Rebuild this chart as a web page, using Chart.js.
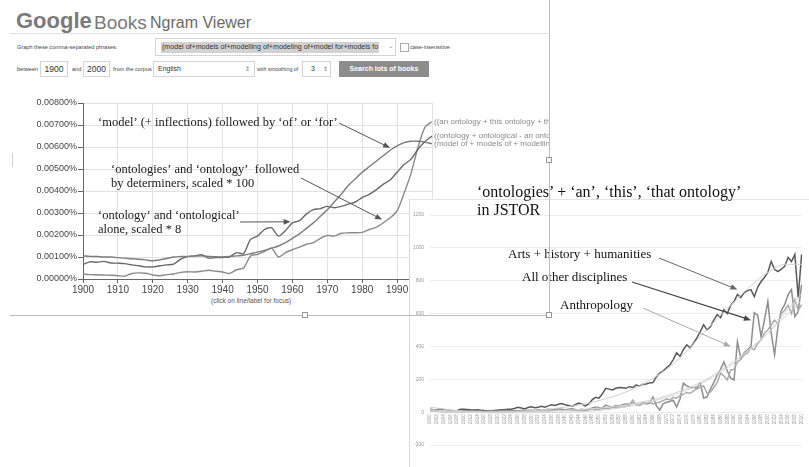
<!DOCTYPE html>
<html>
<head>
<meta charset="utf-8">
<script src="https://cdn.jsdelivr.net/npm/chart.js@4.4.1/dist/chart.umd.min.js"></script>
<style>
  body { margin:0; width:809px; height:467px; background:#fff; position:relative; overflow:hidden;
         font-family:"Liberation Sans", Arial, sans-serif; color:#444; }
  .abs { position:absolute; white-space:nowrap; }
  .small { font-size:5.6px; color:#444; line-height:1; }
  .box { position:absolute; border:1px solid #d4d4d4; background:#fff; box-sizing:border-box; font-size:8px; color:#333; }
  .hline { position:absolute; height:1px; background:#bdbdbd; }
  .vline { position:absolute; width:1px; background:#bdbdbd; }
  .handle { position:absolute; width:6px; height:6px; border:1px solid #999; background:#fff; box-sizing:border-box; }
</style>
</head>
<body>

<!-- ngram viewer header -->
<div class="abs" style="left:16px;top:10px;font-size:22px;line-height:1;font-weight:bold;color:#7a7a7a;">Google</div>
<div class="abs" style="left:94px;top:13px;font-size:19px;line-height:1;color:#7a7a7a;">Books</div>
<div class="abs" style="left:150px;top:15px;font-size:16px;line-height:1;color:#6a6a6a;">Ngram Viewer</div>
<div class="hline" style="left:10px;top:33px;width:540px;background:#e0e0e0;"></div>

<div class="abs small" style="left:17px;top:45px;">Graph these comma-separated phrases:</div>
<div class="box" style="left:155px;top:38px;width:241px;height:18px;">
  <span class="abs" style="left:5px;top:3px;background:#d2d2d2;padding:1px 1px;line-height:9px;font-size:7.1px;">(model of+models of+modelling of+modeling of+model for+models fo</span>
  <span class="abs" style="left:232px;top:3px;color:#999;font-size:7px;">&#8964;</span>
</div>
<div class="abs" style="left:400px;top:43px;width:7px;height:7px;border:1px solid #aaa;"></div>
<div class="abs small" style="left:410px;top:45px;">case-insensitive</div>

<div class="abs small" style="left:17px;top:67px;">between</div>
<div class="box" style="left:40px;top:61px;width:28px;height:16px;text-align:center;line-height:14px;font-size:8.5px;">1900</div>
<div class="abs small" style="left:72px;top:67px;">and</div>
<div class="box" style="left:83px;top:61px;width:27px;height:16px;text-align:center;line-height:14px;font-size:8.5px;">2000</div>
<div class="abs small" style="left:113px;top:67px;">from the corpus</div>
<div class="box" style="left:153px;top:61px;width:102px;height:16px;line-height:14px;font-size:7px;">
  <span class="abs" style="left:4px;">English</span>
  <span class="abs" style="left:91px;font-family:'DejaVu Sans';font-size:6px;color:#777;">&#8661;</span>
</div>
<div class="abs small" style="left:257px;top:67px;font-size:5.3px;">with smoothing of</div>
<div class="box" style="left:302px;top:61px;width:29px;height:16px;line-height:14px;font-size:7px;">
  <span class="abs" style="left:8px;">3</span>
  <span class="abs" style="left:20px;font-family:'DejaVu Sans';font-size:6px;color:#777;">&#8661;</span>
</div>
<div class="abs small" style="left:334px;top:67px;">.</div>
<div class="abs" style="left:339px;top:61px;width:90px;height:16px;background:#8c8c8c;color:#fff;font-size:7px;font-weight:bold;text-align:center;line-height:16px;">Search lots of books</div>

<!-- ngram chart -->
<div class="abs" style="left:0;top:95px;width:550px;height:205px;z-index:1;">
  <canvas id="ngram" width="550" height="205"></canvas>
</div>
<div class="abs" style="left:211px;top:297px;font-size:6.5px;color:#555;">(click on line/label for focus)</div>

<!-- JSTOR chart -->
<div class="abs" style="left:409px;top:199px;width:400px;height:268px;border-left:1px solid #d8d8d8;border-top:1px solid #e4e4e4;background:#fff;z-index:2;">
  <canvas id="jstor" width="399" height="267"></canvas>
</div>
<div class="abs" style="left:477px;top:183px;font-family:'Liberation Serif';font-size:16px;line-height:18px;color:#111;z-index:3;">&#8216;ontologies&#8217; + &#8216;an&#8217;, &#8216;this&#8217;, &#8216;that ontology&#8217;<br>in JSTOR</div>

<!-- image frame with handles -->
<div class="vline" style="left:549px;top:0;height:315px;z-index:4;"></div>
<div class="hline" style="left:10px;top:315px;width:540px;z-index:4;"></div>
<div class="vline" style="left:12px;top:153px;height:14px;background:#d0d0d0;z-index:4;"></div>
<div class="handle" style="left:546px;top:157px;z-index:5;"></div>
<div class="handle" style="left:302px;top:312px;z-index:5;"></div>
<div class="handle" style="left:546px;top:312px;z-index:5;"></div>

<script>
// ---------- Ngram data (percent of all n-grams) ----------
const ngramYears = [1900,1902,1904,1906,1908,1910,1912,1914,1916,1918,
  1920,1922,1924,1926,1928,1930,1932,1934,1936,1938,
  1940,1942,1944,1946,1948,1950,1952,1954,1956,1958,
  1960,1962,1964,1966,1968,1970,1972,1974,1976,1978,
  1980,1982,1984,1986,1988,1990,1992,1994,1996,1998,2000];

const modelOf = [0.00105,0.00103,0.00102,0.00100,0.00100,0.00097,0.00095,0.00092,0.00090,0.00087,
  0.00083,0.00087,0.00093,0.00100,0.00102,0.00103,0.00104,0.00105,0.00103,0.00101,
  0.00100,0.00102,0.00105,0.00108,0.00115,0.00122,0.00130,0.00140,0.00150,0.00165,
  0.00185,0.00205,0.00230,0.00255,0.00285,0.00315,0.00350,0.00385,0.00425,0.00455,
  0.00485,0.00510,0.00535,0.00560,0.00585,0.00605,0.00620,0.00626,0.00626,0.00622,0.00615];

const ontologyAlone = [0.00066,0.00078,0.00076,0.00080,0.00073,0.00072,0.00070,0.00064,0.00060,0.00055,
  0.00055,0.00060,0.00064,0.00068,0.00090,0.00102,0.00105,0.00110,0.00095,0.00097,
  0.00098,0.00100,0.00120,0.00115,0.00180,0.00195,0.00225,0.00233,0.00195,0.00220,
  0.00255,0.00265,0.00295,0.00315,0.00320,0.00330,0.00324,0.00330,0.00340,0.00350,
  0.00370,0.00385,0.00405,0.00430,0.00450,0.00485,0.00520,0.00545,0.00590,0.00625,0.00650];

const ontologyDeterminers = [0.00022,0.00020,0.00019,0.00018,0.00017,0.00015,0.00013,0.00025,0.00028,0.00026,
  0.00018,0.00015,0.00020,0.00023,0.00030,0.00033,0.00032,0.00035,0.00040,0.00035,
  0.00032,0.00025,0.00042,0.00050,0.00105,0.00112,0.00125,0.00140,0.00100,0.00120,
  0.00133,0.00145,0.00158,0.00165,0.00185,0.00198,0.00195,0.00208,0.00210,0.00210,
  0.00212,0.00225,0.00235,0.00255,0.00278,0.00310,0.00390,0.00480,0.00600,0.00690,0.00715];

const ngramLabels = [
  '(model of + models of + modelling of + modeling of + model for + models for)',
  '((ontology + ontological - an ontology - this ontology - that ontology - ontologies) * 8)',
  '((an ontology + this ontology + that ontology + ontologies) * 100)'
];

// ---------- JSTOR data (articles per year) ----------
const jstorYears = [1900,1901,1902,1903,1904,1905,1906,1907,1908,1909,
  1910,1911,1912,1913,1914,1915,1916,1917,1918,1919,
  1920,1921,1922,1923,1924,1925,1926,1927,1928,1929,
  1930,1931,1932,1933,1934,1935,1936,1937,1938,1939,
  1940,1941,1942,1943,1944,1945,1946,1947,1948,1949,
  1950,1951,1952,1953,1954,1955,1956,1957,1958,1959,
  1960,1961,1962,1963,1964,1965,1966,1967,1968,1969,
  1970,1971,1972,1973,1974,1975,1976,1977,1978,1979,
  1980,1981,1982,1983,1984,1985,1986,1987,1988,1989,
  1990,1991,1992,1993,1994,1995,1996,1997,1998,1999,
  2000,2001,2002,2003,2004,2005,2006,2007,2008,2009,2010];

const artsHistory = [15,12,14,20,14,12,10,8,9,18,
  17,16,14,13,14,12,10,9,8,10,
  12,14,15,17,18,22,30,25,20,28,
  32,27,30,35,30,38,45,40,48,52,
  45,40,35,45,55,48,38,50,75,90,
  85,110,145,140,135,145,150,148,145,155,
  150,165,160,170,172,178,180,214,238,250,
  270,287,320,361,340,380,410,391,420,452,
  490,532,501,520,560,593,575,624,600,650,
  673,716,697,728,740,746,703,760,795,820,
  850,917,868,856,870,887,942,917,960,697,960];

const allOther = [20,15,12,10,8,10,8,6,5,6,
  8,10,9,8,6,5,4,6,8,7,
  6,5,7,8,10,9,8,10,12,10,
  12,10,14,12,15,18,14,16,20,18,
  15,18,20,16,14,18,12,15,25,30,
  28,25,43,35,30,40,38,45,50,48,
  55,50,45,60,50,55,92,40,12,50,
  60,65,73,31,80,177,160,150,150,147,
  177,86,92,140,180,226,260,306,250,208,
  196,428,330,361,380,400,605,590,459,560,
  673,483,349,520,620,654,716,746,581,612,777];

const anthropology = [10,8,5,4,3,2,2,3,4,3,
  2,3,2,2,3,4,3,2,2,3,
  3,4,3,5,4,6,5,7,8,6,
  8,10,9,12,10,8,10,12,15,10,
  12,14,10,12,15,12,14,18,20,15,
  18,20,25,22,30,28,32,30,35,40,
  73,45,40,50,55,60,50,55,60,70,
  80,75,90,85,100,110,120,115,130,140,
  150,160,116,122,150,180,238,220,196,257,
  260,306,320,349,360,391,380,420,440,480,
  500,530,560,540,600,620,650,600,685,620,654];

// trend curves (at a few years)
const trendYears   = [1900,1910,1920,1930,1940,1950,1960,1970,1975,1980,1985,1990,1995,2000,2005,2010];
const artsTrend    = [30,5,0,8,30,70,140,260,350,460,570,670,770,850,900,900];
const otherTrend   = [15,2,-5,-3,0,10,40,90,125,170,230,300,390,480,600,720];
const anthroTrend  = [5,2,0,3,10,25,50,100,135,180,240,310,390,480,580,680];

const jstorTicks = [-200,0,200,400,600,800,1000,1200];

// ---------- helpers ----------
function arrow(ctx, x1, y1, x2, y2, color, w) {
  const a = Math.atan2(y2 - y1, x2 - x1), L = 7, H = 2.8;
  ctx.save();
  ctx.strokeStyle = color; ctx.fillStyle = color; ctx.lineWidth = w;
  ctx.beginPath(); ctx.moveTo(x1, y1);
  ctx.lineTo(x2 - L * 0.8 * Math.cos(a), y2 - L * 0.8 * Math.sin(a)); ctx.stroke();
  ctx.beginPath(); ctx.moveTo(x2, y2);
  ctx.lineTo(x2 - L * Math.cos(a) + H * Math.sin(a), y2 - L * Math.sin(a) - H * Math.cos(a));
  ctx.lineTo(x2 - L * Math.cos(a) - H * Math.sin(a), y2 - L * Math.sin(a) + H * Math.cos(a));
  ctx.closePath(); ctx.fill();
  ctx.restore();
}
function pts(xs, ys) { return xs.map((x, i) => ({ x: x, y: ys[i] })); }

// ---------- ngram chart ----------
const ngramNotes = {
  id: 'ngramNotes',
  afterDraw(chart) {
    const ctx = chart.ctx, x = chart.scales.x, y = chart.scales.y;
    ctx.save();
    // series labels at the line ends
    ctx.font = '8px "Liberation Sans"';
    ctx.fillStyle = '#8a8a8a';
    ctx.textBaseline = 'middle';
    chart.data.datasets.forEach(ds => {
      const last = ds.data[ds.data.length - 1];
      ctx.fillText(ds.label, x.right + 2, y.getPixelForValue(last.y));
    });
    // hand-written annotations
    ctx.font = '12.5px "Liberation Serif"';
    ctx.fillStyle = '#1a1a1a';
    ctx.fillText('\u2018model\u2019 (+ inflections) followed by \u2018of\u2019 or \u2018for\u2019', 98, 28);
    ctx.fillText('\u2018ontologies\u2019 and \u2018ontology\u2019  followed', 111, 75);
    ctx.fillText('by determiners, scaled * 100', 111, 89);
    ctx.fillText('\u2018ontology\u2019 and \u2018ontological\u2019', 98, 121);
    ctx.fillText('alone, scaled * 8', 98, 135);
    arrow(ctx, 339, 28, x.getPixelForValue(1988), y.getPixelForValue(0.00596), '#555', 1);
    arrow(ctx, 301, 83, x.getPixelForValue(1985.7), y.getPixelForValue(0.0027), '#555', 1);
    arrow(ctx, 240, 127, x.getPixelForValue(1959.5), y.getPixelForValue(0.0026), '#555', 1);
    ctx.restore();
  }
};

new Chart(document.getElementById('ngram'), {
  type: 'line',
  data: {
    datasets: [
      { label: ngramLabels[0], data: pts(ngramYears, modelOf), borderColor: '#7c7c7c' },
      { label: ngramLabels[1], data: pts(ngramYears, ontologyAlone), borderColor: '#6a6a6a' },
      { label: ngramLabels[2], data: pts(ngramYears, ontologyDeterminers), borderColor: '#8a8a8a' }
    ]
  },
  options: {
    responsive: false,
    animation: false,
    devicePixelRatio: 1,
    layout: { padding: { top: 8, right: 118, left: 0, bottom: 0 } },
    elements: { point: { radius: 0 }, line: { borderWidth: 1.4, tension: 0.25 } },
    plugins: { legend: { display: false }, tooltip: { enabled: false } },
    scales: {
      x: {
        type: 'linear', min: 1900, max: 2000,
        afterFit: s => { s.height = 21; },
        grid: { color: '#e2e2e2', tickColor: '#666', tickLength: 4 },
        border: { color: '#666' },
        ticks: { stepSize: 10, padding: 1, color: '#444', font: { family: 'Liberation Sans', size: 10 },
                 callback: v => String(v) }
      },
      y: {
        min: 0, max: 0.008,
        afterFit: s => { s.width = 83; },
        grid: { color: '#e2e2e2', tickColor: '#666', tickLength: 5 },
        border: { color: '#666' },
        ticks: { stepSize: 0.001, padding: 1, color: '#444', font: { family: 'Liberation Sans', size: 9 },
                 callback: v => v.toFixed(5) + '%' }
      }
    }
  },
  plugins: [ngramNotes]
});

// ---------- JSTOR chart ----------
const jstorNotes = {
  id: 'jstorNotes',
  afterDraw(chart) {
    const ctx = chart.ctx, x = chart.scales.x, y = chart.scales.y;
    ctx.save();
    ctx.font = '13px "Liberation Serif"';
    ctx.fillStyle = '#111';
    ctx.textBaseline = 'middle';
    ctx.fillText('Arts + history + humanities', 98, 55);
    ctx.fillText('All other disciplines', 112, 78);
    ctx.fillText('Anthropology', 150, 106);
    arrow(ctx, 249, 58, x.getPixelForValue(91), y.getPixelForValue(746), '#666', 1);
    arrow(ctx, 222, 82, x.getPixelForValue(95), y.getPixelForValue(560), '#444', 1.3);
    arrow(ctx, 233, 108, x.getPixelForValue(89), y.getPixelForValue(400), '#aaa', 1);
    ctx.restore();
  }
};

new Chart(document.getElementById('jstor'), {
  type: 'line',
  data: {
    labels: jstorYears,
    datasets: [
      { label: 'Arts trend', data: pts(trendYears, artsTrend), borderColor: '#cfcfcf', borderWidth: 1, cubicInterpolationMode: 'monotone' },
      { label: 'Other trend', data: pts(trendYears, otherTrend), borderColor: '#d4d4d4', borderWidth: 1, cubicInterpolationMode: 'monotone' },
      { label: 'Anthropology trend', data: pts(trendYears, anthroTrend), borderColor: '#d4d4d4', borderWidth: 1, cubicInterpolationMode: 'monotone' },
      { label: 'Anthropology', data: anthropology, borderColor: '#ababab', borderWidth: 1.5 },
      { label: 'All other disciplines', data: allOther, borderColor: '#8e8e8e', borderWidth: 1.5 },
      { label: 'Arts + history + humanities', data: artsHistory, borderColor: '#5a5a5a', borderWidth: 1.5 }
    ]
  },
  options: {
    responsive: false,
    animation: false,
    devicePixelRatio: 1,
    layout: { padding: { top: 15, right: 7, left: 0, bottom: 22 } },
    elements: { point: { radius: 0 }, line: { tension: 0 } },
    plugins: { legend: { display: false }, tooltip: { enabled: false } },
    scales: {
      x: {
        type: 'category',
        position: { y: 0 },
        grid: { display: false, drawTicks: false, tickLength: 0 },
        border: { display: false },
        ticks: { autoSkip: false, minRotation: 90, maxRotation: 90, padding: 2, color: '#999',
                 font: { family: 'Liberation Sans', size: 4.5 },
                 callback: (v, i) => (i % 2 === 0 ? String(jstorYears[i]) : '') }
      },
      y: {
        min: jstorTicks[0], max: jstorTicks[jstorTicks.length - 1],
        afterFit: s => { s.width = 20; },
        afterBuildTicks: s => { s.ticks = jstorTicks.map(v => ({ value: v })); },
        grid: { color: '#ececec', drawTicks: false },
        border: { display: false },
        ticks: { padding: 6, color: '#999', font: { family: 'Liberation Sans', size: 5 },
                 callback: v => String(v) }
      }
    }
  },
  plugins: [jstorNotes]
});
</script>
</body>
</html>
